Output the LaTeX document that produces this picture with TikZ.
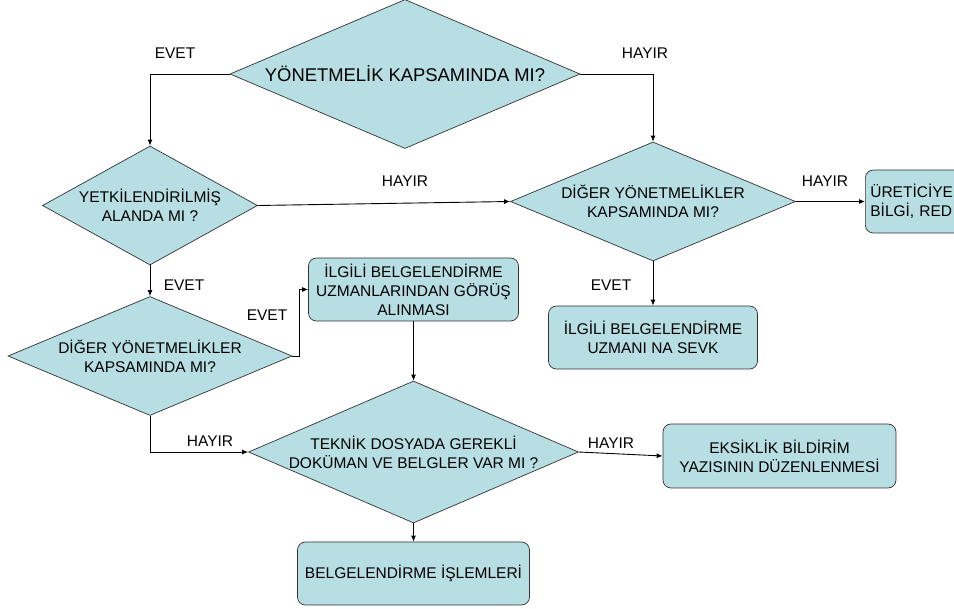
\documentclass[tikz,border=0pt]{standalone}
\usepackage{fontspec}
\setmainfont{Liberation Sans}
\usetikzlibrary{shapes.geometric,arrows.meta}
\definecolor{boxfill}{HTML}{B7DEE2}
\definecolor{edgegray}{HTML}{333333}

\begin{document}
\begin{tikzpicture}[
    x=1pt, y=-1pt,
    font=\fontsize{15.5}{19}\selectfont,
    decision/.style={diamond,draw=edgegray,fill=boxfill,inner sep=0pt,line width=0.7pt},
    block/.style={rectangle,rounded corners=8pt,draw=edgegray,fill=boxfill,align=center,line width=0.7pt,minimum height=63pt},
    arrow/.style={-{Latex[length=6pt,width=5pt]}, line width=0.9pt},
    answer/.style={inner sep=0pt}
]
\useasboundingbox (0,0) rectangle (954,609);
\clip (0,0) rectangle (954,609);

% questions
\node[decision,minimum width=350pt,minimum height=149pt,
      label={[font=\fontsize{18.4}{22}\selectfont]center:YÖNETMELİK KAPSAMINDA MI?}] (Q1) at (405,74) {};
\node[decision,minimum width=215pt,minimum height=119pt,
      label={[align=center]center:{YETKİLENDİRİLMİŞ\\ALANDA MI ?}}] (Q2) at (150,205.5) {};
\node[decision,minimum width=285pt,minimum height=119pt,
      label={[align=center]center:{DİĞER YÖNETMELİKLER\\KAPSAMINDA MI?}}] (Q3) at (653,201.5) {};
\node[decision,minimum width=284pt,minimum height=119pt,
      label={[align=center]center:{DİĞER YÖNETMELİKLER\\KAPSAMINDA MI?}}] (Q4) at (150,356) {};
\node[decision,minimum width=330pt,minimum height=142pt,
      label={[align=center]center:{TEKNİK DOSYADA GEREKLİ\\DOKÜMAN VE BELGLER VAR MI ?}}] (Q5) at (413.5,452) {};

% actions
\node[block,minimum width=140pt,text width=130pt,align=left,anchor=west] (U1) at (865,201.5) {ÜRETİCİYE\\BİLGİ, RED};
\node[block,minimum width=209pt] (S1) at (653,337.5) {İLGİLİ BELGELENDİRME\\UZMANI NA SEVK};
\node[block,minimum width=210pt] (G1) at (413.5,289.5) {İLGİLİ BELGELENDİRME\\UZMANLARINDAN GÖRÜŞ\\ALINMASI};
\node[block,minimum width=233pt,minimum height=64pt] (E1) at (779.5,456) {EKSİKLİK BİLDİRİM\\YAZISININ DÜZENLENMESİ};
\node[block,minimum width=232pt] (B1) at (413.5,573.5) {BELGELENDİRME İŞLEMLERİ};

\draw[arrow] (Q1.west) -| (Q2.north);
\draw[arrow] (Q1.east) -| (Q3.north);
\draw[arrow] (Q2.east) -- (Q3.west);
\draw[arrow] (Q3.east) -- (U1.west);
\draw[arrow] (Q3.south) -- (S1.north);
\draw[arrow] (Q2.south) -- (Q4.north);
\draw[arrow] (Q4.east) -- ++(7,0) |- (G1.west);
\draw[arrow] (G1.south) -- (Q5.north);
\draw[arrow] (Q4.south) |- (Q5.west);
\draw[arrow] (Q5.east) -- (E1.west);
\draw[arrow] (Q5.south) -- (B1.north);

% answers
\node[answer] (A1) at (175,53) {EVET};
\node[answer] (A2) at (645,53) {HAYIR};
\node[answer] (A3) at (405,181) {HAYIR};
\node[answer] (A4) at (825,181) {HAYIR};
\node[answer] (A5) at (184,285) {EVET};
\node[answer] (A6) at (611,285) {EVET};
\node[answer] (A7) at (267,315) {EVET};
\node[answer] (A8) at (210,441) {HAYIR};
\node[answer] (A9) at (611,443) {HAYIR};

\end{tikzpicture}
\end{document}
